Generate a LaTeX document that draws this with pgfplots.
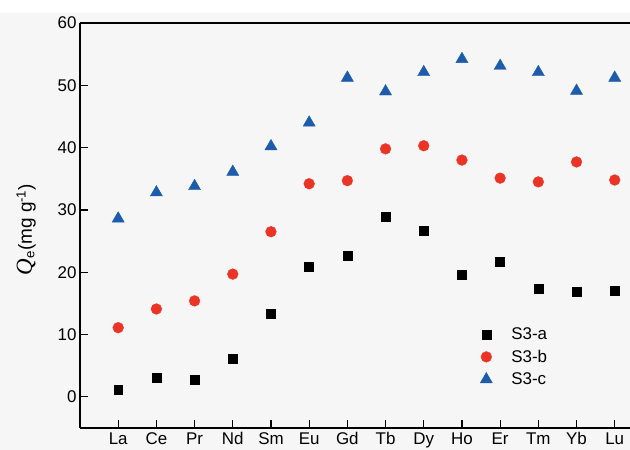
\documentclass[border=0pt]{standalone}
\usepackage{fontspec}
\setmainfont{Liberation Sans}
\newfontfamily\serifQ{Liberation Serif}
\usepackage{pgfplots}
\pgfplotsset{compat=1.18}
\definecolor{myblue}{RGB}{28,92,170}
\definecolor{myred}{RGB}{236,52,38}
\definecolor{bgc}{RGB}{246,246,246}
\begin{document}
\begin{tikzpicture}
\fill[bgc] (-80bp,-22bp) rectangle (550bp,415bp);
\useasboundingbox (-80bp,-22bp) rectangle (550bp,428bp);
\begin{axis}[
  at={(0,0)}, anchor=south west,
  scale only axis, width=550bp, height=405bp,
  xmin=-1, xmax=13.4, ymin=-5, ymax=60,
  xtick={0,...,13},
  xticklabels={La,Ce,Pr,Nd,Sm,Eu,Gd,Tb,Dy,Ho,Er,Tm,Yb,Lu},
  ytick={0,10,...,60},
  axis x line=box, axis y line*=left,
  xtick pos=left, ytick pos=left,
  tick align=inside, major tick length=8bp, minor tick num=0,
  axis line style={line width=1.6pt, -},
  tick style={line width=1.2pt, black},
  ticklabel style={font=\fontsize{17}{19}\selectfont},
  xticklabel style={yshift=-1bp},
  /pgf/number format/assume math mode=true,
  ylabel={{\fontsize{23}{25}\selectfont\serifQ\itshape Q}\textsubscript{e}(mg g\textsuperscript{-1})},
  ylabel style={at={(axis description cs:-0.098,0.49)}, anchor=center, font=\fontsize{19}{21}\selectfont},
  legend style={draw=none, fill=none, at={(0.722,0.258)}, anchor=north west,
    font=\fontsize{17}{19}\selectfont, row sep=5bp, column sep=17bp},
  legend cell align=left,
  clip=false,
]
\addplot[only marks, mark=square*, mark size=4.5pt, black] coordinates {
(0,1.1) (1,3.0) (2,2.7) (3,6.1) (4,13.3) (5,20.9) (6,22.6) (7,28.9) (8,26.6) (9,19.6) (10,21.7) (11,17.3) (12,16.8) (13,17.0)};
\addlegendentry{S3-a}
\addplot[only marks, mark=*, mark size=5.4pt, myred, mark options={draw=myred, fill=myred}] coordinates {
(0,11.1) (1,14.1) (2,15.4) (3,19.7) (4,26.5) (5,34.2) (6,34.7) (7,39.8) (8,40.3) (9,38.0) (10,35.1) (11,34.5) (12,37.7) (13,34.8)};
\addlegendentry{S3-b}
\addplot[only marks, mark=triangle*, mark size=7pt, myblue, mark options={draw=myblue, fill=myblue}] coordinates {
(0,28.6) (1,32.8) (2,33.8) (3,36.1) (4,40.2) (5,44.0) (6,51.2) (7,49.0) (8,52.1) (9,54.2) (10,53.1) (11,52.1) (12,49.1) (13,51.2)};
\addlegendentry{S3-c}
\end{axis}
\end{tikzpicture}
\end{document}
